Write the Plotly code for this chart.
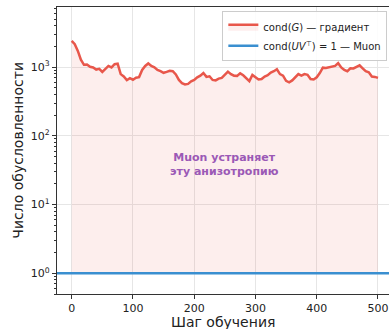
import plotly.graph_objects as go

# Condition number of the raw gradient over training, sampled every 5 steps
steps = list(range(0, 501, 5))
cond_grad = [
    2400, 2150, 1720, 1280, 1080, 1090, 1010, 985, 920, 945,
    850, 940, 1040, 990, 1100, 1120, 790, 730, 645, 690,
    655, 700, 715, 910, 1040, 1130, 1040, 995, 910, 875,
    825, 850, 885, 870, 780, 650, 585, 560, 570, 620,
    650, 710, 750, 820, 720, 735, 650, 640, 680, 695,
    770, 860, 790, 750, 745, 810, 760, 690, 625, 770,
    710, 660, 670, 730, 760, 830, 870, 930, 790, 750,
    630, 600, 640, 700, 790, 750, 790, 770, 670, 660,
    710, 820, 980, 970, 1000, 1010, 1040, 1140, 990, 910,
    870, 960, 955, 1010, 1060, 960, 870, 840, 730, 720,
    695,
]
# Orthogonalised update UV^T always has condition number 1
cond_muon = [1.0] * len(steps)

x_ticks = [0, 100, 200, 300, 400, 500]
y_ticks = [1, 10, 100, 1000]
y_ticktext = ["10<sup>0</sup>", "10<sup>1</sup>", "10<sup>2</sup>", "10<sup>3</sup>"]

RED = "#e8574b"
BLUE = "#3a8fd0"
PURPLE = "#9b59b6"
FONT = "DejaVu Sans"

# minor tick positions for the log axis: 2..9 within each decade
minor_vals = [m * 10 ** d for d in range(-1, 4) for m in range(2, 10)]

fig = go.Figure()

# baseline for the shaded region
fig.add_trace(go.Scatter(
    x=steps, y=cond_muon, mode="lines", line=dict(width=0),
    showlegend=False, hoverinfo="skip",
))
fig.add_trace(go.Scatter(
    x=steps, y=cond_grad, mode="lines",
    line=dict(color=RED, width=2.5),
    fill="tonexty", fillcolor="rgba(232,87,75,0.10)",
    name="cond(<i>G</i>) — градиент",
))
fig.add_trace(go.Scatter(
    x=[-30, 530], y=[1, 1], mode="lines",
    line=dict(color=BLUE, width=2.5),
    name="cond(<i>UV</i><sup>⊤</sup>) = 1 — Muon",
))

fig.add_annotation(
    x=250, y=1.59, xref="x", yref="y", yanchor="middle",
    text="<b>Muon устраняет<br>эту анизотропию</b>",
    showarrow=False, font=dict(family=FONT, size=11, color=PURPLE),
    align="center",
)
# axis titles
fig.add_annotation(
    x=0.5, y=-0.098, xref="paper", yref="paper", xanchor="center", yanchor="middle",
    text="Шаг обучения", showarrow=False,
    font=dict(family=FONT, size=14, color="#222"),
)
fig.add_annotation(
    x=-0.12, y=0.5, xref="paper", yref="paper", xanchor="center", yanchor="middle",
    text="Число обусловленности", showarrow=False, textangle=-90,
    font=dict(family=FONT, size=14, color="#222"),
)

fig.update_layout(
    width=389, height=329,
    margin=dict(l=57, r=0, t=7, b=35),
    paper_bgcolor="white", plot_bgcolor="white",
    font=dict(family=FONT, size=11, color="#222"),
    legend=dict(
        x=0.995, y=0.985, xanchor="right", yanchor="top",
        bgcolor="rgba(255,255,255,0.85)", bordercolor="#cccccc", borderwidth=1,
        font=dict(family=FONT, size=10), tracegroupgap=0, traceorder="normal",
    ),
    showlegend=True,
)

fig.update_xaxes(
    range=[-24, 518], tickvals=x_ticks,
    showline=True, linecolor="#333", linewidth=1.2, mirror=True,
    ticks="outside", ticklen=4, tickcolor="#333",
    showgrid=True, gridcolor="#e6e6e6", gridwidth=1, zeroline=False,
    automargin=False,
)
fig.update_yaxes(
    type="log", range=[-0.301, 3.874],
    tickvals=y_ticks, ticktext=y_ticktext,
    showline=True, linecolor="#333", linewidth=1.2,
    ticks="outside", ticklen=4, tickcolor="#333",
    minor=dict(tickmode="array", tickvals=minor_vals, ticks="outside",
               ticklen=2, tickcolor="#333", showgrid=False),
    showgrid=True, gridcolor="#e6e6e6", gridwidth=1, zeroline=False,
    automargin=False,
)

fig.write_html("out.html")
